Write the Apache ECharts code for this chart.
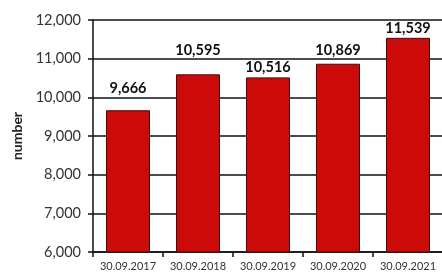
<!DOCTYPE html>
<html>
<head>
<meta charset="utf-8">
<script src="https://cdn.jsdelivr.net/npm/echarts@6/dist/echarts.min.js"></script>
<style>
  html, body { margin: 0; padding: 0; background: #fff; }
  #chart { width: 442px; height: 273px; }
</style>
</head>
<body>
<div id="chart"></div>
<script>
// data
const categories = ['30.09.2017', '30.09.2018', '30.09.2019', '30.09.2020', '30.09.2021'];
const values = [9666, 10595, 10516, 10869, 11539];
const yTicks = { min: 6000, max: 12000, interval: 1000 };
// label gaps above each bar (the source places them by hand)
const labelGaps = [14, 16, 3, 6, 2];

const chart = echarts.init(document.getElementById('chart'));
chart.setOption({
  animation: false,
  grid: { left: 93, right: -1, top: 20, bottom: 21, outerBoundsMode: 'none' },
  xAxis: {
    type: 'category',
    data: categories,
    axisLine: { lineStyle: { color: '#111', width: 1.5 } },
    axisTick: { show: true, length: 5, lineStyle: { color: '#111', width: 1.5 } },
    axisLabel: { color: '#333', fontSize: 11, fontFamily: 'Lato', margin: 9, interval: 0, hideOverlap: false }
  },
  yAxis: {
    type: 'value',
    min: yTicks.min,
    max: yTicks.max,
    interval: yTicks.interval,
    name: 'number',
    nameLocation: 'middle',
    nameGap: 68,
    nameRotate: 90,
    nameTextStyle: { color: '#222', fontSize: 14, fontWeight: 'bold', fontFamily: 'Lato' },
    axisLine: { show: true, lineStyle: { color: '#111', width: 1.5 } },
    axisTick: { show: true, length: 5, lineStyle: { color: '#111', width: 1.5 } },
    splitLine: { lineStyle: { color: '#111', width: 1.5 } },
    axisLabel: {
      color: '#333', fontSize: 14.5, fontFamily: 'Lato', margin: 12,
      formatter: v => v.toLocaleString('en-US')
    }
  },
  series: [{
    type: 'bar',
    data: values.map((v, i) => ({ value: v, label: { distance: labelGaps[i] } })),
    barWidth: 44,
    itemStyle: { color: '#cc0a0a', borderColor: '#3a1010', borderWidth: 1 },
    label: {
      show: true,
      position: 'top',
      color: '#111',
      fontSize: 14.5,
      fontWeight: 'bold',
      fontFamily: 'Lato',
      formatter: p => p.value.toLocaleString('en-US')
    }
  }]
});
</script>
</body>
</html>
